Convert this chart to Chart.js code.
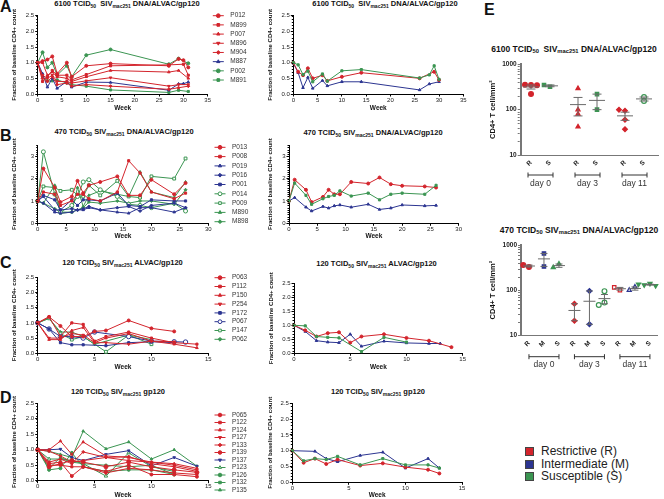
<!DOCTYPE html>
<html><head><meta charset="utf-8">
<script src="https://cdn.jsdelivr.net/npm/chart.js@4.4.1/dist/chart.umd.min.js"></script>
<style>
html,body{margin:0;padding:0;background:#fff}
body{width:664px;height:499px;position:relative;overflow:hidden;font-family:"Liberation Sans",Arial,sans-serif;color:#111}
canvas{position:absolute}
.ttl{position:absolute;font-weight:bold;font-size:7.5px;white-space:nowrap;transform:translate(-50%,-50%);line-height:1}
.ttl sub{font-size:5px;vertical-align:-1.5px;line-height:0}
.et{font-size:8.5px}
.et sub{font-size:5.8px}
.lt{position:absolute;font-weight:bold;font-size:16px;line-height:1}
#leg{position:absolute;left:525px;top:445px;font-size:12px;line-height:12.5px;color:#222}
#leg div{position:relative;padding-left:16px;white-space:nowrap}
#leg span{position:absolute;left:0;top:2px;width:7px;height:7px;border:1px solid #444}
</style></head><body>
<div class="lt" style="left:0;top:-0.8px">A</div>
<div class="lt" style="left:0;top:127.5px">B</div>
<div class="lt" style="left:0;top:254.5px">C</div>
<div class="lt" style="left:0;top:389.5px">D</div>
<div class="lt" style="left:484px;top:1.5px">E</div>

<div class="ttl" style="left:127px;top:4px">6100 TCID<sub>50</sub>&nbsp; SIV<sub>mac251</sub> DNA/ALVAC/gp120</div>
<div class="ttl" style="left:385px;top:4px">6100 TCID<sub>50</sub>&nbsp; SIV<sub>mac251</sub> DNA/ALVAC/gp120</div>
<div class="ttl" style="left:124px;top:131.7px">470 TCID<sub>50</sub> SIV<sub>mac251</sub> DNA/ALVAC/gp120</div>
<div class="ttl" style="left:373px;top:133.3px">470 TCID<sub>50</sub> SIV<sub>mac251</sub> DNA/ALVAC/gp120</div>
<div class="ttl" style="left:122.5px;top:263.3px">120 TCID<sub>50</sub> SIV<sub>mac251</sub> ALVAC/gp120</div>
<div class="ttl" style="left:376.5px;top:264px">120 TCID<sub>50</sub> SIV<sub>mac251</sub> ALVAC/gp120</div>
<div class="ttl" style="left:118px;top:391.7px">120 TCID<sub>50</sub> SIV<sub>mac251</sub> gp120</div>
<div class="ttl" style="left:378px;top:391.7px">120 TCID<sub>50</sub> SIV<sub>mac251</sub> gp120</div>
<div class="ttl et" style="left:574px;top:49.3px">6100 TCID<sub>50</sub>&nbsp; SIV<sub>mac251</sub> DNA/ALVAC/gp120</div>
<div class="ttl et" style="left:579px;top:230px">470 TCID<sub>50</sub> SIV<sub>mac251</sub> DNA/ALVAC/gp120</div>

<div id="leg">
<div><span style="background:#d3242c"></span>Restrictive (R)</div>
<div><span style="background:#2c3591"></span>Intermediate (M)</div>
<div><span style="background:#3b9552"></span>Susceptible (S)</div>
</div>

<script>
// ================= DATA =================
// Panel A (6100 TCID50, DNA/ALVAC/gp120) – individual animals
const weeksA = [0,1,2,3,4,6,7,10,15,27,29,30,31];
const A_P012 = [1.0,1.05,1.1,1.2,0.65,1.0,0.55,0.9,0.97,0.9,1.12,1.08,0.85];
const A_M899 = [1.0,0.4,0.55,0.75,0.6,0.6,0.45,0.62,0.9,0.93,null,0.95,0.6];
const A_P007 = [1.0,1.0,0.6,0.7,0.55,0.5,0.4,0.55,0.75,0.7,0.75,null,0.5];
const A_M896 = [0.95,0.6,0.5,0.6,0.4,0.4,0.35,0.42,0.52,0.25,0.3,null,0.3];
const A_M904 = [1.0,0.5,0.4,0.55,0.3,0.35,0.25,0.3,0.25,0.15,0.2,null,0.25];
const A_M887 = [1.0,0.65,0.22,0.5,0.18,0.4,0.22,0.38,0.37,0.12,0.32,0.33,0.38];
const A_P002 = [1.0,1.33,0.85,1.0,0.6,0.9,0.55,1.24,1.42,0.95,1.13,null,0.98];
const A_M891 = [1.0,0.55,0.42,0.42,0.45,0.35,0.3,0.25,0.13,0.05,0.12,null,0.08];
// Panel A – group means
const weeksA2 = [0,1,2,3,4,6,7,10,14,26,28,29,30];
const A2_R = [1.0,0.71,0.6,0.82,0.5,0.6,0.42,0.55,0.68,0.5,null,0.71,0.45];
const A2_S = [1.0,0.93,0.62,0.73,0.39,0.64,0.41,0.74,0.78,0.51,0.61,0.9,0.47];
const A2_M = [0.98,0.68,0.2,0.53,0.18,0.43,0.26,0.39,0.39,0.13,0.32,null,0.39];

// Panel B (470 TCID50, DNA/ALVAC/gp120)
const weeksB = [0,1,3,4,6,7,8,9,11,14,16,18,20,24,26];
const B_P013 = [1.0,2.45,1.6,0.95,1.2,1.9,1.35,1.7,1.85,2.1,1.25,1.25,1.95,1.3,1.8];
const B_P008 = [1.0,1.4,1.3,0.8,1.0,1.3,1.3,1.1,1.0,1.4,2.8,2.25,1.4,1.1,1.35];
const B_P019 = [1.0,0.9,0.5,0.45,0.5,0.6,0.6,0.7,0.6,0.5,0.45,0.7,0.7,0.5,0.7];
const B_P016 = [1.0,1.2,0.6,0.6,0.65,0.6,0.65,0.75,0.6,0.7,0.75,0.55,0.8,0.9,0.7];
const B_P001 = [1.0,1.25,1.05,0.6,1.05,0.8,1.05,1.05,1.0,1.35,0.8,0.75,1.05,1.0,1.0];
const B_P014 = [1.0,3.2,1.3,0.5,0.8,1.2,1.85,1.95,1.5,1.2,0.85,0.8,0.7,0.9,0.55];
const B_P009 = [1.0,1.65,1.6,1.45,1.5,1.25,1.2,1.7,1.25,1.9,1.2,1.15,2.1,2.0,2.9];
const B_M890 = [1.0,0.9,1.7,0.45,0.5,1.6,0.75,1.25,1.45,1.3,1.2,2.3,1.4,1.15,1.85];
const B_M898 = [1.0,0.9,0.65,0.5,0.5,0.6,0.7,0.95,0.9,1.0,0.9,1.0,1.0,0.85,1.5];
const B2_R = [1.0,1.95,1.5,0.95,1.18,1.5,1.3,1.3,1.85,1.78,2.05,1.75,1.68,1.65,1.6];
const B2_S = [1.0,1.8,1.25,0.85,1.1,1.2,1.25,1.45,1.22,1.35,1.05,1.3,1.35,1.3,1.7];
const B2_M = [1.0,1.15,0.72,0.55,0.75,0.68,0.78,0.82,0.72,0.85,0.62,0.68,0.82,0.78,0.8];

// Panel C (120 TCID50, ALVAC/gp120)
const weeksC = [0,1,2,3,4,5,6,8,10,12,13,14];
const C_P063 = [1.0,1.2,0.9,0.55,0.55,0.72,0.75,1.08,0.82,0.72,null,null];
const C_P112 = [1.0,1.2,0.55,1.0,0.95,0.4,0.55,0.7,0.5,0.35,null,0.3];
const C_P150 = [1.0,0.45,0.45,0.75,0.85,0.35,0.5,0.65,0.4,0.3,null,0.18];
const C_P254 = [1.0,0.5,0.5,0.65,0.6,0.35,0.35,0.3,0.4,0.38,null,null];
const C_P172 = [1.0,0.8,0.35,0.28,0.28,null,0.25,0.35,0.38,0.35,null,null];
const C_P067 = [1.0,0.8,0.55,0.55,0.5,0.7,null,0.55,0.4,0.38,0.37,null];
const C_P147 = [1.0,1.15,0.65,0.45,0.55,null,0.05,0.6,0.3,null,null,null];
const C_P062 = [1.0,1.15,0.7,0.7,0.55,0.3,null,0.6,0.45,null,null,null];
const C2_R = [1.0,0.82,0.6,0.72,0.75,0.38,0.6,0.68,0.55,0.45,null,0.22];
const C2_S = [1.0,0.98,0.6,0.57,0.55,null,0.06,0.57,0.4,null,null,null];
const C2_M = [1.0,0.78,0.45,0.4,0.38,0.68,0.25,0.43,0.37,0.35,0.35,null];

// Panel D (120 TCID50, gp120)
const weeksD = [0,1,2,3,4,6,8,10,12,13,14];
const D_P065 = [1.0,0.55,0.6,0.15,0.45,0.3,0.5,0.2,0.2,null,0.13];
const D_P122 = [1.0,0.5,0.5,0.45,0.45,0.25,0.4,0.35,0.25,null,0.2];
const D_P124 = [1.0,1.0,1.28,0.85,1.25,0.8,0.75,0.6,0.55,null,0.4];
const D_P127 = [1.0,0.95,0.8,0.6,0.65,0.75,0.65,0.6,0.5,null,0.35];
const D_P133 = [1.0,0.6,0.7,0.55,0.93,0.75,0.78,0.55,0.45,null,0.3];
const D_P139 = [1.0,0.45,0.55,0.65,0.6,0.45,0.6,0.45,0.35,null,0.27];
const D_P137 = [1.0,1.0,1.02,0.75,0.65,0.85,0.97,0.48,0.75,null,0.47];
const D_P123 = [1.0,0.7,0.7,0.65,0.55,0.15,0.9,0.45,0.3,null,null];
const D_P126 = [1.0,0.35,0.4,0.9,0.45,0.3,0.35,0.35,0.2,null,null];
const D_P132 = [1.0,0.4,0.75,0.6,0.55,0.5,0.45,0.5,0.2,null,null];
const D_P135 = [1.0,0.95,0.85,0.75,1.6,1.03,1.25,0.7,1.0,null,0.47];
const D2_R = [1.0,0.62,0.75,0.58,0.72,0.53,0.6,0.48,0.4,0.28,null];
const D2_S = [1.0,0.68,0.75,0.72,0.82,0.55,0.75,0.55,0.55,0.45,null];
const D2_M = [1.0,null,0.98,0.75,0.65,0.85,0.95,0.45,0.75,0.45,null];

// Panel E – CD4+ T cell/mm² in tissue
const dayLabels = ['day 0','day 3','day 11'];
const E1_tickLabels = ['R','S','R','S','R','S'];
const E1_R_d0 = [350,355,345,220];
const E1_S_d0 = [320,350];
const E1_R_d3 = [295,100,80,42];
const E1_S_d3 = [220,100];
const E1_R_d11 = [95,100,60,37];
const E1_S_d11 = [190,155];
const E2_tickLabels = ['R','M','S','R','M','S','R','M','S'];
const E2_R_d0 = [325,360];
const E2_M_d0 = [650,335];
const E2_S_d0 = [380,320];
const E2_R_d3 = [50,21];
const E2_M_d3 = [96,17.5];
const E2_S_d3 = [95,53,47];
const E2_R_d11 = [100,115];
const E2_M_d11 = [118,100];
const E2_S_d11 = [140,130,125,135];

// ================= DRAWING =================
const FONT = '"Liberation Sans", Arial, Helvetica, sans-serif';
const RED = '#d3242c', BLUE = '#2c3591', GREEN = '#3b9552';
Chart.defaults.font.family = FONT;
Chart.defaults.animation = false;

function mk(c){
  const cv = document.createElement('canvas');
  cv.width = c.w; cv.height = c.h;
  cv.style.left = c.l + 'px'; cv.style.top = c.t + 'px';
  document.body.appendChild(cv);
  return cv;
}
function marker(ctx, style, r, rot, x, y, fill, stroke){
  ctx.save(); ctx.fillStyle = fill; ctx.strokeStyle = stroke; ctx.lineWidth = 1;
  if (Chart.helpers && Chart.helpers.drawPoint) {
    Chart.helpers.drawPoint(ctx, {pointStyle: style, radius: r, rotation: rot || 0, borderWidth: 1}, x, y);
  } else { ctx.beginPath(); ctx.arc(x, y, r, 0, Math.PI * 2); ctx.fill(); ctx.stroke(); }
  ctx.restore();
}
const axisMinor = {
  id: 'axisMinor',
  afterDraw(chart, args, o){
    if (!o || (!o.step && !o.log)) return;
    const s = chart.scales.y, ctx = chart.ctx, x0 = chart.chartArea.left - (o.off || 0);
    const vals = [];
    if (o.log) { for (let d = 10; d < s.max; d *= 10) for (let k = 2; k < 10; k++) vals.push(d * k); }
    else { const n = Math.round((s.max - s.min) / o.step); for (let i = 0; i <= n; i++) vals.push(s.min + i * o.step); }
    ctx.save(); ctx.strokeStyle = o.color || '#000'; ctx.lineWidth = 1; ctx.beginPath();
    vals.forEach(v => { const y = Math.round(s.getPixelForValue(v)) + 0.5; ctx.moveTo(x0 - o.len, y); ctx.lineTo(x0, y); });
    ctx.stroke(); ctx.restore();
  }
};
const sideLegend = {
  id: 'sideLegend',
  afterDraw(chart, args, o){
    if (!o || o.x === undefined) return;
    const ctx = chart.ctx;
    chart.data.datasets.forEach((d, i) => {
      const y = o.y + i * o.dy;
      ctx.save(); ctx.strokeStyle = d.borderColor; ctx.lineWidth = 1;
      ctx.beginPath(); ctx.moveTo(o.x - 5.5, y); ctx.lineTo(o.x + 5.5, y); ctx.stroke(); ctx.restore();
      marker(ctx, d.pointStyle, o.r, d.pointRotation, o.x, y, d.pointBackgroundColor, d.borderColor);
      ctx.save(); ctx.fillStyle = '#333'; ctx.font = o.fs + 'px ' + FONT; ctx.textBaseline = 'middle';
      ctx.fillText(d.label, o.x + 12, y); ctx.restore();
    });
  }
};
function series(label, weeks, vals, color, style, ex){
  ex = ex || {};
  const pts = [];
  weeks.forEach((w, i) => { if (vals[i] !== null && vals[i] !== undefined) pts.push({x: w, y: vals[i]}); });
  return {label, data: pts, borderColor: color, backgroundColor: color,
    pointBackgroundColor: ex.open ? '#fff' : color, pointBorderColor: color,
    pointStyle: style, pointRotation: ex.rot || 0, pointRadius: ex.r || 1.5, pointBorderWidth: 1,
    borderWidth: 1, tension: 0, fill: false, clip: false};
}
function lineChart(c){
  const lhY = 6 * 1.2, lhX = 6.5 * 1.2;
  const yBoxL = c.ytx - lhY / 2, yW = c.plot.l - yBoxL;
  const xBoxB = c.xty + lhX / 2, xH = xBoxB - c.plot.b;
  const cv = mk(c.canvas);
  const pad = {left: yBoxL - c.canvas.l, top: c.plot.t - c.canvas.t,
    right: c.canvas.l + c.canvas.w - c.plot.r, bottom: c.canvas.t + c.canvas.h - xBoxB};
  const grid = {display: true, drawOnChartArea: false, drawTicks: true, tickLength: 2.5, color: '#000', lineWidth: 1};
  const border = {display: true, color: '#000', width: 1};
  return new Chart(cv, {type: 'line', data: {datasets: c.datasets}, plugins: [axisMinor, sideLegend], options: {
    responsive: false, animation: false, events: [], layout: {padding: pad},
    plugins: {legend: {display: false}, tooltip: {enabled: false},
      axisMinor: {step: 0.1, len: 1.5, color: '#000'}, sideLegend: c.legend || {}},
    scales: {
      x: {type: 'linear', min: 0, max: c.xmax, grid, border, afterFit: s => { s.height = xH; },
        ticks: {stepSize: 5, padding: 0, autoSkip: false, maxRotation: 0, font: {size: 6}, color: '#222'},
        title: {display: true, text: 'Week', padding: 0, font: {size: 6.5, weight: 'bold'}, color: '#111'}},
      y: {type: 'linear', min: 0, max: c.ymax, grid, border, afterFit: s => { s.width = yW; },
        afterBuildTicks: s => { if (c.intOnly) s.ticks = s.ticks.filter(t => Math.abs(t.value - Math.round(t.value)) < 1e-9); },
        ticks: {stepSize: c.ystep, padding: 1, font: {size: 6}, color: '#222',
          callback: v => c.intOnly ? String(v) : Number(v).toFixed(1)},
        title: {display: true, text: 'Fraction of baseline CD4+ count', padding: 0, font: {size: 6, weight: 'bold'}, color: '#111'}}
    }}});
}

// ---- A ----
lineChart({canvas: {l: 0, t: 0, w: 268, h: 118}, plot: {l: 37.7, t: 15.7, r: 207.7, b: 94}, ytx: 14, xty: 108.3,
  xmax: 35, ymax: 2.5, ystep: 0.5,
  legend: {x: 218.3, y: 15.7, dy: 9.19, r: 1.9, fs: 6.5},
  datasets: [
    series('P012', weeksA, A_P012, RED, 'circle'),
    series('M899', weeksA, A_M899, RED, 'rect'),
    series('P007', weeksA, A_P007, RED, 'triangle'),
    series('M896', weeksA, A_M896, RED, 'triangle', {rot: 180}),
    series('M904', weeksA, A_M904, RED, 'rectRot'),
    series('M887', weeksA, A_M887, BLUE, 'triangle'),
    series('P002', weeksA, A_P002, GREEN, 'circle'),
    series('M891', weeksA, A_M891, GREEN, 'rect')]});
lineChart({canvas: {l: 258, t: 0, w: 212, h: 118}, plot: {l: 293.3, t: 15.7, r: 463.3, b: 94}, ytx: 270, xty: 108.3,
  xmax: 35, ymax: 2.5, ystep: 0.5,
  datasets: [
    series('Susceptible', weeksA2, A2_S, GREEN, 'rect'),
    series('Restrictive', weeksA2, A2_R, RED, 'circle'),
    series('Intermediate', weeksA2, A2_M, BLUE, 'triangle')]});

// ---- B ----
lineChart({canvas: {l: 0, t: 118, w: 268, h: 125}, plot: {l: 37.7, t: 145.1, r: 208.3, b: 223.3}, ytx: 14, xty: 236.7,
  xmax: 30, ymax: 3.5, ystep: 1, intOnly: true,
  legend: {x: 220, y: 29.3, dy: 9.3, r: 1.9, fs: 6.5},
  datasets: [
    series('P013', weeksB, B_P013, RED, 'circle'),
    series('P008', weeksB, B_P008, RED, 'rect'),
    series('P019', weeksB, B_P019, BLUE, 'triangle'),
    series('P016', weeksB, B_P016, BLUE, 'rectRot'),
    series('P001', weeksB, B_P001, BLUE, 'rect'),
    series('P014', weeksB, B_P014, GREEN, 'circle', {open: true, r: 2}),
    series('P009', weeksB, B_P009, GREEN, 'rect', {open: true, r: 2}),
    series('M890', weeksB, B_M890, GREEN, 'triangle'),
    series('M898', weeksB, B_M898, GREEN, 'rectRot')]});
lineChart({canvas: {l: 258, t: 118, w: 212, h: 125}, plot: {l: 289, t: 145.1, r: 458.7, b: 223.3}, ytx: 270, xty: 236.7,
  xmax: 30, ymax: 3.5, ystep: 1, intOnly: true,
  datasets: [
    series('Susceptible', weeksB, B2_S, GREEN, 'rect'),
    series('Restrictive', weeksB, B2_R, RED, 'circle'),
    series('Intermediate', weeksB, B2_M, BLUE, 'triangle')]});

// ---- C ----
lineChart({canvas: {l: 0, t: 268, w: 268, h: 106}, plot: {l: 37.7, t: 277.3, r: 208.3, b: 353.3}, ytx: 14, xty: 367,
  xmax: 15, ymax: 2.5, ystep: 0.5,
  legend: {x: 220, y: 9.7, dy: 8.8, r: 1.9, fs: 6.5},
  datasets: [
    series('P063', weeksC, C_P063, RED, 'circle'),
    series('P112', weeksC, C_P112, RED, 'rect'),
    series('P150', weeksC, C_P150, RED, 'triangle'),
    series('P254', weeksC, C_P254, RED, 'triangle', {rot: 180}),
    series('P172', weeksC, C_P172, BLUE, 'rect'),
    series('P067', weeksC, C_P067, BLUE, 'circle', {open: true, r: 2.2}),
    series('P147', weeksC, C_P147, GREEN, 'rect', {open: true, r: 2}),
    series('P062', weeksC, C_P062, GREEN, 'rectRot')]});
lineChart({canvas: {l: 258, t: 268, w: 212, h: 106}, plot: {l: 294, t: 283.3, r: 462.7, b: 353.3}, ytx: 271.7, xty: 367,
  xmax: 15, ymax: 2.5, ystep: 0.5,
  datasets: [
    series('Susceptible', weeksC, C2_S, GREEN, 'rect'),
    series('Restrictive', weeksC, C2_R, RED, 'circle'),
    series('Intermediate', weeksC, C2_M, BLUE, 'triangle')]});

// ---- D ----
lineChart({canvas: {l: 0, t: 396, w: 268, h: 106}, plot: {l: 37.7, t: 403.3, r: 208.3, b: 480.7}, ytx: 14, xty: 495,
  xmax: 15, ymax: 2.5, ystep: 0.5,
  legend: {x: 220, y: 19, dy: 7.5, r: 1.8, fs: 6.3},
  datasets: [
    series('P065', weeksD, D_P065, RED, 'circle'),
    series('P122', weeksD, D_P122, RED, 'rect'),
    series('P124', weeksD, D_P124, RED, 'triangle'),
    series('P127', weeksD, D_P127, RED, 'triangle', {rot: 180}),
    series('P133', weeksD, D_P133, RED, 'rectRot'),
    series('P139', weeksD, D_P139, RED, 'circle', {r: 2}),
    series('P137', weeksD, D_P137, BLUE, 'triangle', {rot: 180}),
    series('P123', weeksD, D_P123, GREEN, 'triangle', {open: true, r: 2}),
    series('P126', weeksD, D_P126, GREEN, 'circle'),
    series('P132', weeksD, D_P132, GREEN, 'rect'),
    series('P135', weeksD, D_P135, GREEN, 'triangle')]});
lineChart({canvas: {l: 258, t: 396, w: 212, h: 106}, plot: {l: 292.3, t: 403.3, r: 462, b: 482.3}, ytx: 270, xty: 495,
  xmax: 15, ymax: 2.5, ystep: 0.5,
  datasets: [
    series('Susceptible', weeksD, D2_S, GREEN, 'rect'),
    series('Restrictive', weeksD, D2_R, RED, 'circle'),
    series('Intermediate', weeksD, D2_M, BLUE, 'triangle')]});

// ---- E ----
function swarm(vals, step, thr){
  const placed = [];
  return vals.map(v => {
    const lv = Math.log10(v);
    for (const c of [0, -1, 1, -2, 2, -3, 3]) {
      if (!placed.some(p => p.o === c && Math.abs(p.lv - lv) < thr)) { placed.push({o: c, lv}); return c * step; }
    }
    return 0;
  });
}
function dotChart(c){
  const lhY = 7.5 * 1.2;
  const yBoxL = c.ytx - lhY / 2, yW = c.plot.l - yBoxL;
  const cv = mk(c.canvas);
  const pad = {left: yBoxL - c.canvas.l, top: c.plot.t - c.canvas.t,
    right: c.canvas.l + c.canvas.w - c.plot.r, bottom: c.canvas.t + c.canvas.h - c.plot.b - c.xH};
  const posOf = (g, k) => g * c.gstep + k * c.within;
  const ticksPos = [];
  for (let g = 0; g < 3; g++) for (let k = 0; k < c.nk; k++) ticksPos.push(posOf(g, k));
  const datasets = c.groups.map(gr => {
    const p = posOf(gr.g, gr.k);
    const offs = swarm(gr.vals, c.jit, 0.08);
    return {data: gr.vals.map((v, i) => ({x: p + offs[i], y: v})), showLine: false, clip: false,
      pointStyle: gr.style, pointRotation: gr.rot || 0, pointRadius: 2.4, pointBorderWidth: 1.2,
      pointBackgroundColor: gr.open ? '#fff' : gr.color, pointBorderColor: gr.color, borderColor: gr.color};
  });
  const errBars = {
    id: 'errBars',
    afterDatasetsDraw(chart){
      const xs = chart.scales.x, ys = chart.scales.y, ctx = chart.ctx;
      ctx.save(); ctx.strokeStyle = '#6a6a6a'; ctx.lineWidth = 1;
      c.groups.forEach(gr => {
        const n = gr.vals.length, m = gr.vals.reduce((a, b) => a + b, 0) / n;
        const sd = Math.sqrt(gr.vals.reduce((a, b) => a + (b - m) * (b - m), 0) / (n - 1));
        const se = sd / Math.sqrt(n);
        const px = xs.getPixelForValue(posOf(gr.g, gr.k));
        const ym = ys.getPixelForValue(m), y1 = ys.getPixelForValue(m + se), y0 = ys.getPixelForValue(Math.max(m - se, 10.5));
        ctx.beginPath();
        ctx.moveTo(px - c.meanHalf, ym); ctx.lineTo(px + c.meanHalf, ym);
        ctx.moveTo(px, y0); ctx.lineTo(px, y1);
        ctx.moveTo(px - c.capHalf, y0); ctx.lineTo(px + c.capHalf, y0);
        ctx.moveTo(px - c.capHalf, y1); ctx.lineTo(px + c.capHalf, y1);
        ctx.stroke();
      });
      ctx.restore();
    },
    afterDraw(chart){
      const xs = chart.scales.x, ctx = chart.ctx, yb = chart.chartArea.bottom + c.brOff;
      ctx.save(); ctx.strokeStyle = '#333'; ctx.fillStyle = '#333'; ctx.lineWidth = 1;
      ctx.font = '8.5px ' + FONT; ctx.textAlign = 'center'; ctx.textBaseline = 'middle';
      dayLabels.forEach((lab, g) => {
        const x0 = xs.getPixelForValue(posOf(g, 0)) - c.brExt, x1 = xs.getPixelForValue(posOf(g, c.nk - 1)) + c.brExt;
        ctx.beginPath(); ctx.moveTo(x0, yb); ctx.lineTo(x1, yb);
        ctx.moveTo(x0, yb - 2.5); ctx.lineTo(x0, yb + 2.5); ctx.moveTo(x1, yb - 2.5); ctx.lineTo(x1, yb + 2.5);
        ctx.stroke();
        ctx.fillText(lab, (x0 + x1) / 2, yb + c.txtOff);
      });
      ctx.restore();
    }
  };
  return new Chart(cv, {type: 'scatter', data: {datasets}, plugins: [axisMinor, errBars], options: {
    responsive: false, animation: false, events: [], layout: {padding: pad},
    plugins: {legend: {display: false}, tooltip: {enabled: false}, axisMinor: {log: true, len: 2, color: '#777', off: 1}},
    scales: {
      x: {type: 'linear', min: c.xmin, max: c.xmax, afterFit: s => { s.height = c.xH; },
        afterBuildTicks: s => { s.ticks = ticksPos.map(v => ({value: v})); },
        grid: {display: true, drawOnChartArea: false, drawTicks: true, tickLength: 2, color: 'rgba(0,0,0,0)'},
        border: {display: true, color: '#777', width: 1},
        ticks: {autoSkip: false, minRotation: 45, maxRotation: 45, padding: 2, font: {size: 6.5, weight: 'bold'}, color: '#222',
          callback: (v, i) => c.labels[i]}},
      y: {type: 'logarithmic', min: 10, max: 1000, afterFit: s => { s.width = yW; },
        afterBuildTicks: s => { s.ticks = [10, 100, 1000].map(v => ({value: v})); },
        grid: {display: true, drawOnChartArea: false, drawTicks: true, tickLength: 3, color: '#777'},
        border: {display: true, color: '#777', width: 2},
        ticks: {padding: 1, font: {size: 6.5, weight: 'bold'}, color: '#222', callback: v => String(v)},
        title: {display: true, text: 'CD4+ T cell/mm²', padding: 0, font: {size: 7.5, weight: 'bold'}, color: '#111'}}
    }}});
}
dotChart({canvas: {l: 470, t: 56, w: 194, h: 140}, plot: {l: 520.7, t: 64.3, r: 658, b: 155}, ytx: 493, xH: 32,
  xmin: -0.515, xmax: 6.35, gstep: 2.35, within: 0.95, nk: 2, jit: 0.3, labels: E1_tickLabels,
  meanHalf: 8, capHalf: 4.5, brOff: 20, txtOff: 8.3, brExt: 3,
  groups: [
    {g: 0, k: 0, vals: E1_R_d0, color: RED, style: 'circle'},
    {g: 0, k: 1, vals: E1_S_d0, color: GREEN, style: 'rect'},
    {g: 1, k: 0, vals: E1_R_d3, color: RED, style: 'triangle'},
    {g: 1, k: 1, vals: E1_S_d3, color: GREEN, style: 'rect'},
    {g: 2, k: 0, vals: E1_R_d11, color: RED, style: 'rectRot'},
    {g: 2, k: 1, vals: E1_S_d11, color: GREEN, style: 'circle', open: true}]});
dotChart({canvas: {l: 470, t: 236, w: 194, h: 140}, plot: {l: 521, t: 245, r: 657, b: 335.3}, ytx: 493.3, xH: 32,
  xmin: -0.53, xmax: 8.53, gstep: 3.03, within: 1, nk: 3, jit: 0.38, labels: E2_tickLabels,
  meanHalf: 6, capHalf: 3.5, brOff: 21.4, txtOff: 8.3, brExt: 0,
  groups: [
    {g: 0, k: 0, vals: E2_R_d0, color: RED, style: 'circle'},
    {g: 0, k: 1, vals: E2_M_d0, color: BLUE, style: 'rect'},
    {g: 0, k: 2, vals: E2_S_d0, color: GREEN, style: 'triangle'},
    {g: 1, k: 0, vals: E2_R_d3, color: RED, style: 'rectRot'},
    {g: 1, k: 1, vals: E2_M_d3, color: BLUE, style: 'rectRot'},
    {g: 1, k: 2, vals: E2_S_d3, color: GREEN, style: 'circle', open: true},
    {g: 2, k: 0, vals: E2_R_d11, color: RED, style: 'rect', open: true},
    {g: 2, k: 1, vals: E2_M_d11, color: BLUE, style: 'triangle', open: true},
    {g: 2, k: 2, vals: E2_S_d11, color: GREEN, style: 'triangle', rot: 180}]});
</script>
</body></html>
